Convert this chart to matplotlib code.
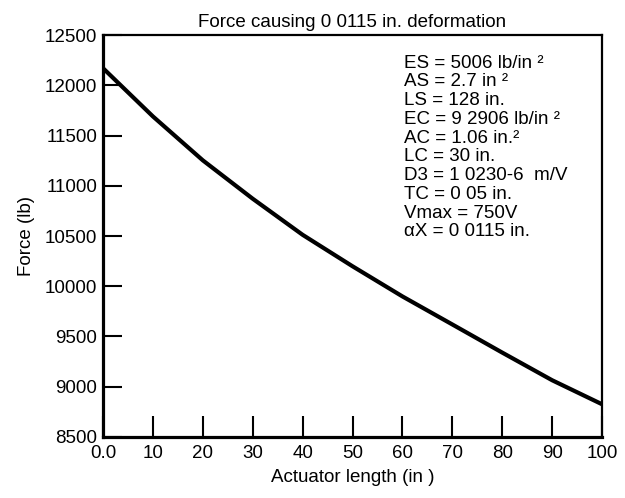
import matplotlib
matplotlib.use("Agg")
import matplotlib.pyplot as plt

# values
length = [0, 10, 20, 30, 40, 50, 60, 70, 80, 90, 100]
force = [12170, 11690, 11253, 10871, 10512, 10199, 9899, 9620, 9340, 9065, 8826]

xticks = [0, 10, 20, 30, 40, 50, 60, 70, 80, 90, 100]
xticklabels = ["0.0", "10", "20", "30", "40", "50", "60", "70", "80", "90", "100"]
yticks = [8500, 9000, 9500, 10000, 10500, 11000, 11500, 12000, 12500]

params = ["ES = 5006 lb/in \u00b2",
          "AS = 2.7 in \u00b2",
          "LS = 128 in.",
          "EC = 9 2906 lb/in \u00b2",
          "AC = 1.06 in.\u00b2",
          "LC = 30 in.",
          "D3 = 1 0230-6  m/V",
          "TC = 0 05 in.",
          "Vmax = 750V",
          "\u03b1X = 0 0115 in."]

plt.rcParams['font.family'] = ['Liberation Sans', 'DejaVu Sans']

fig = plt.figure(figsize=(6.25, 4.98), dpi=100)
ax = fig.add_axes([0.1648, 0.1225, 0.7984, 0.8072])

ax.plot(length, force, color='black', lw=3.0, solid_capstyle='butt')

ax.set_xlim(0, 100)
ax.set_ylim(8500, 12500)
ax.set_xticks(xticks)
ax.set_xticklabels(xticklabels)
ax.set_yticks(yticks)

ax.tick_params(axis='x', direction='in', length=15, width=1.5, labelsize=13.5, pad=6)
ax.tick_params(axis='y', direction='in', length=14, width=1.5, labelsize=13.5, pad=4)

for side in ['left', 'bottom']:
    ax.spines[side].set_linewidth(2.3)
for side in ['top', 'right']:
    ax.spines[side].set_linewidth(1.6)

ax.set_title("Force causing 0 0115 in. deformation", fontsize=13.5, pad=6)
ax.set_xlabel("Actuator length (in )", fontsize=13.5, labelpad=5)
ax.set_ylabel("Force (lb)", fontsize=13.5, labelpad=7)

for i, s in enumerate(params):
    ax.text(0.603, 0.93 - i * 0.0466, s, transform=ax.transAxes,
            fontsize=13.5, va='center', ha='left')

fig.savefig("out.png", dpi=100)
